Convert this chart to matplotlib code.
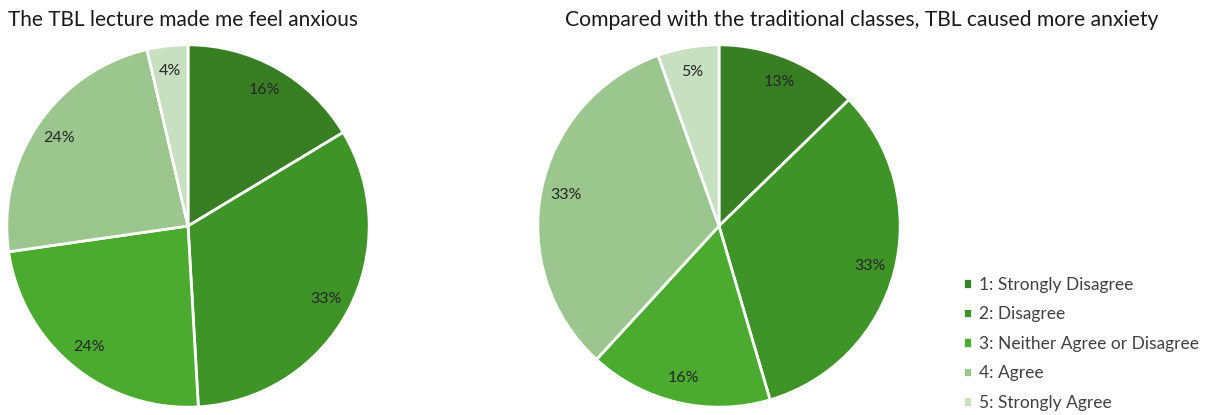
import matplotlib.pyplot as plt

# survey responses (n = 55 per question)
categories = ['1: Strongly Disagree', '2: Disagree',
              '3: Neither Agree or Disagree', '4: Agree', '5: Strongly Agree']
anxious_counts = [9, 18, 13, 13, 2]
more_anxiety_counts = [7, 18, 9, 18, 3]
titles = ['The TBL lecture made me feel anxious',
          'Compared with the traditional classes, TBL caused more anxiety']

greens = ['#387e23', '#3f9428', '#4aab2e', '#9bc78e', '#c6e0c0']

plt.rcParams['font.family'] = ['Lato', 'DejaVu Sans']

W, H = 1207, 415
fig = plt.figure(figsize=(W / 100, H / 100), dpi=100)


def pie_axes(cx, cy, r):
    # axes box in figure fraction from pixel centre/radius
    return fig.add_axes([(cx - r) / W, (H - cy - r) / H, 2 * r / W, 2 * r / H])


wedges = None
for (cx, cy), counts in zip([(188, 226), (719, 226)],
                            [anxious_counts, more_anxiety_counts]):
    ax = pie_axes(cx, cy, 183)
    wedges, _, autotexts = ax.pie(
        counts, colors=greens, startangle=90, counterclock=False,
        autopct='%1.0f%%', pctdistance=0.86,
        wedgeprops=dict(edgecolor='white', linewidth=2),
        textprops=dict(color='#262626', fontsize=11.5))
    ax.set_xlim(-1.01, 1.01)
    ax.set_ylim(-1.01, 1.01)
    ax.set_aspect('equal')

fig.text(8 / W, 1 - 20 / H, titles[0], ha='left', va='center',
         fontsize=15, color='#1a1a1a')
fig.text(862 / W, 1 - 20 / H, titles[1], ha='center', va='center',
         fontsize=15.2, color='#1a1a1a')

fig.legend(wedges, categories, loc='upper left',
           bbox_to_anchor=(947 / W, 1 - 261 / H), frameon=False,
           fontsize=12.5, handlelength=0.55, handleheight=0.55,
           handletextpad=0.4, labelspacing=0.78, labelcolor='#404040')

fig.savefig('out.png', dpi=100)
